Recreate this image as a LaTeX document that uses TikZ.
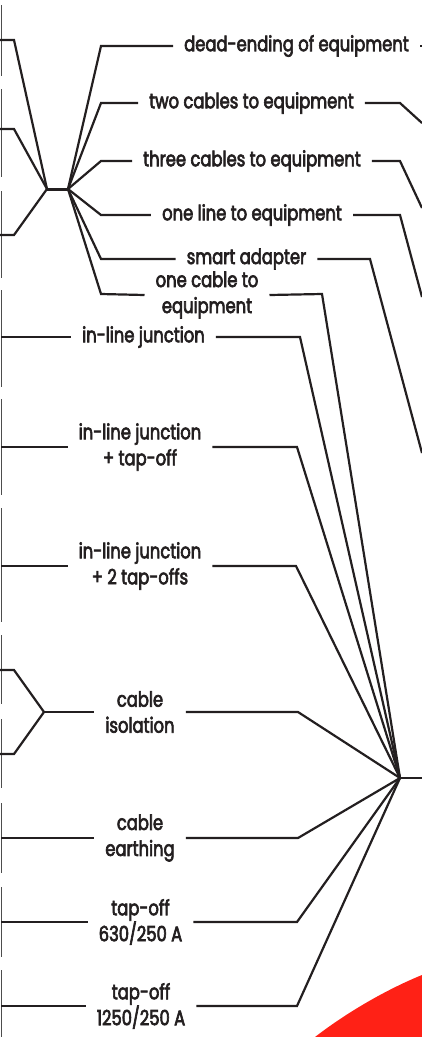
\documentclass[tikz,border=0pt]{standalone}
\usepackage{fontspec}
\newfontfamily\lblfont{Poppins}[FakeStretch=0.78,FakeBold=3]
\usetikzlibrary{positioning}
\definecolor{ink}{HTML}{231F20}
\definecolor{frame}{HTML}{4D4D4D}
\definecolor{accent}{HTML}{FF2116}

\begin{document}
\begin{tikzpicture}[x=1pt,y=-1pt,
    wire/.style={draw=ink,line width=2.2pt,line join=miter},
    edge/.style={draw=frame,line width=0.9pt},
    lbl/.style={inner xsep=11pt,inner ysep=0pt,align=center,text=ink,
        font=\lblfont\fontsize{21}{26}\selectfont}]
    \useasboundingbox (0,0) rectangle (422,1037);

    % Red disc
    \fill[accent] (315,1037) .. controls (350,1010) and (390,988) .. (422,975)
        -- (422,1037) -- cycle;

    % Frames
    \foreach \a/\b in {5/76, 89/177, 191/278, 290/387, 399/495, 508/622,
                       635/704, 719/788, 803/873, 887/957, 970/1037}
        \draw[edge] (1,\a) -- (1,\b);

    % Equipment side
    \coordinate (jl) at (47,189);
    \coordinate (jr) at (68,189);
    \foreach \y [count=\i] in {40,129,235}
    {
        \coordinate (eq\i) at (0,\y);
        \draw[wire] (eq\i) -- ++(14,0) -- (jl);
    }
    \draw[wire,line width=3pt] (jl) -- (jr);

    \node[lbl] (dead) at (296.5,46) {dead-ending of equipment};
    \node[lbl] (two) at (251.5,103) {two cables to equipment};
    \node[lbl] (three) at (252,161) {three cables to equipment};
    \node[lbl] (oneline) at (252,215) {one line to equipment};
    \node[lbl] (smart) at (246.5,259) {smart adapter};
    \node[lbl] (onecable) at (207,295) {one cable to\\equipment};

    \draw[wire] (jr) -- (101,46) -- (dead.west);
    \draw[wire] (jr) -- (101,103) -- (two.west);
    \draw[wire] (jr) -- (101,161) -- (three.west);
    \draw[wire] (jr) -- (101,215) -- (oneline.west);
    \draw[wire] (jr) -- (101,259) -- (smart.west);
    \draw[wire] (jr) -- (101,294) -- (onecable.west);

    \coordinate (deadout) at (422,46);
    \coordinate (twoout) at (422,123);
    \coordinate (threeout) at (422,208);
    \coordinate (onelineout) at (422,297);
    \coordinate (smartout) at (422,453);
    \draw[wire] (dead.east) -- (deadout);
    \draw[wire] (two.east) -- (400,103) -- (twoout);
    \draw[wire] (three.east) -- (400,161) -- (threeout);
    \draw[wire] (oneline.east) -- (400,215) -- (onelineout);
    \draw[wire] (smart.east) -- (370,259) -- (smartout);

    % Joints
    \coordinate (hub) at (400,778);
    \coordinate (hubout) at (422,778);
    \draw[wire] (hub) -- (hubout);
    \draw[wire] (onecable.east) -- (322,294) -- (hub);

    \node[lbl] (inline) at (143.5,337) {in-line junction};
    \node[lbl] (inlinetap) at (140,447) {in-line junction\\+ tap-off};
    \node[lbl] (inlinetaps) at (140,566) {in-line junction\\+ 2 tap-offs};
    \node[lbl] (isol) at (140,712) {cable\\isolation};
    \node[lbl] (earth) at (140,838) {cable\\earthing};
    \node[lbl] (tapsmall) at (140.5,922) {tap-off\\630/250 A};
    \node[lbl] (tapbig) at (141,1006) {tap-off\\1250/250 A};

    \foreach \n/\x in {inline/300, inlinetap/297, inlinetaps/296, isol/298,
                       earth/298, tapsmall/297, tapbig/297}
        \draw[wire] (\n.east) -- (\x,0 |- \n) -- (hub);

    \foreach \n in {inline, inlinetap, inlinetaps, earth, tapsmall, tapbig}
    {
        \coordinate (\n in) at (1,0 |- \n);
        \draw[wire] (\n in) -- (\n.west);
    }

    % Isolation fork
    \coordinate (jiso) at (44,712);
    \foreach \y [count=\i] in {670,754}
    {
        \coordinate (iso\i) at (0,\y);
        \draw[wire] (iso\i) -- ++(14,0) -- (jiso);
    }
    \draw[wire] (jiso) -- (isol.west);
\end{tikzpicture}
\end{document}
